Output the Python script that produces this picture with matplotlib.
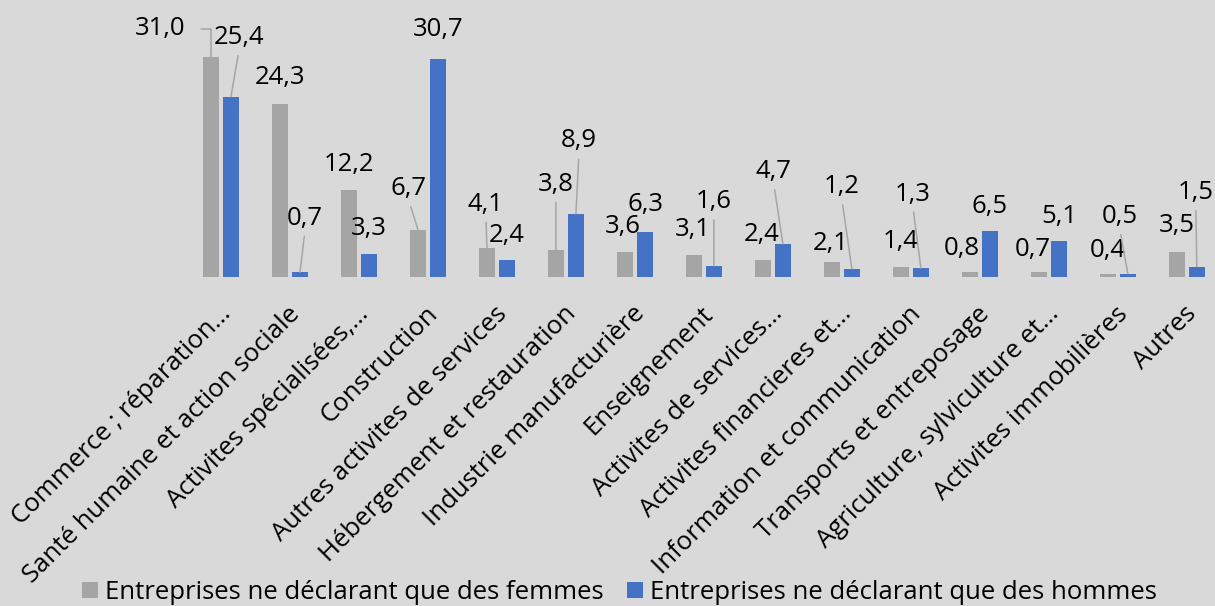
import numpy as np
import matplotlib
matplotlib.use("Agg")
import matplotlib.pyplot as plt

plt.rcParams['font.family'] = ['Open Sans', 'DejaVu Sans']

categories = ["Commerce ; réparation…", "Santé humaine et action sociale",
              "Activites spécialisées,…", "Construction",
              "Autres activites de services", "Hébergement et restauration",
              "Industrie manufacturière", "Enseignement",
              "Activites de services…", "Activites financieres et…",
              "Information et communication", "Transports et entreposage",
              "Agriculture, sylviculture et…", "Activites immobilières", "Autres"]
femmes = [31.0, 24.3, 12.2, 6.7, 4.1, 3.8, 3.6, 3.1, 2.4, 2.1, 1.4, 0.8, 0.7, 0.4, 3.5]
hommes = [25.4, 0.7, 3.3, 30.7, 2.4, 8.9, 6.3, 1.6, 4.7, 1.2, 1.3, 6.5, 5.1, 0.5, 1.5]
series_names = ["Entreprises ne déclarant que des femmes",
                "Entreprises ne déclarant que des hommes"]

# label placement (pixels from the bar top) and whether a leader line is drawn
off_f = [(-51, 28), (0, 27), (0, 26), (-9, 41), (-1, 44), (0, 66), (-2, 25), (-1, 26),
         (-1, 26), (-1, 19), (0, 26), (-8, 23), (-6, 23), (0, 24), (0, 27)]
lead_f = [2, 0, 0, 1, 1, 1, 0, 0, 0, 0, 0, 0, 0, 0, 0]
off_h = [(8, 59), (5, 54), (0, 25), (0, 29), (0, 25), (3, 73), (1, 28), (0, 64),
         (-9, 72), (-10, 82), (-8, 74), (0, 25), (0, 25), (-8, 57), (-1, 74)]
lead_h = [1, 1, 0, 0, 0, 1, 0, 1, 1, 1, 1, 0, 0, 1, 1]

grey = "#A5A5A5"
blue = "#4472C4"
bg = "#D9D9D9"
lead_col = "#A6A6A6"
fs = 18.5

fig = plt.figure(figsize=(12.15, 6.06), dpi=100, facecolor=bg)
ax = fig.add_axes([0.1535, 0.5424, 0.846, 0.411])
ax.set_facecolor(bg)

x = np.arange(len(categories))
w = 0.232
d = 0.145
b1 = ax.bar(x - d, femmes, w, color=grey, label=series_names[0])
b2 = ax.bar(x + d, hommes, w, color=blue, label=series_names[1])

ax.set_xlim(-0.5, 14.4)
ax.set_ylim(0, 35)
for s in ax.spines.values():
    s.set_visible(False)
ax.set_yticks([])
ax.set_xticks([])

# category labels, rotated like the Excel axis
for xi, cat in zip(x, categories):
    ax.annotate(cat, xy=(xi, 0), xycoords='data', xytext=(6, -33),
                textcoords='offset pixels', rotation=45, rotation_mode='anchor',
                ha='right', va='center', fontsize=fs, color='black',
                annotation_clip=False)


def put_labels(bars, vals, offs, leads):
    for bar, v, (dx, dy), ld in zip(bars, vals, offs, leads):
        xc = bar.get_x() + bar.get_width() / 2
        txt = f"{v:.1f}".replace(".", ",")
        kw = dict(xy=(xc, v), xycoords='data', xytext=(dx, dy),
                  textcoords='offset pixels', ha='center', va='center',
                  fontsize=fs, color='black')
        if ld == 1:
            kw['arrowprops'] = dict(arrowstyle='-', color=lead_col, lw=1.1,
                                    relpos=(0.5, 0), shrinkA=2, shrinkB=0)
        elif ld == 2:
            kw['arrowprops'] = dict(arrowstyle='-', color=lead_col, lw=1.1,
                                    relpos=(1, 0.5), shrinkA=9, shrinkB=0,
                                    connectionstyle='angle,angleA=0,angleB=90,rad=0')
        ax.annotate(txt, **kw)


put_labels(b1, femmes, off_f, lead_f)
put_labels(b2, hommes, off_h, lead_h)

fig.legend(handles=[b1, b2], loc='center', bbox_to_anchor=(0.51, 0.022),
           ncol=2, frameon=False, fontsize=fs, handlelength=0.6,
           handleheight=0.6, handletextpad=0.3, columnspacing=0.9,
           borderaxespad=0)

fig.savefig("out.png", dpi=100, facecolor=bg)
